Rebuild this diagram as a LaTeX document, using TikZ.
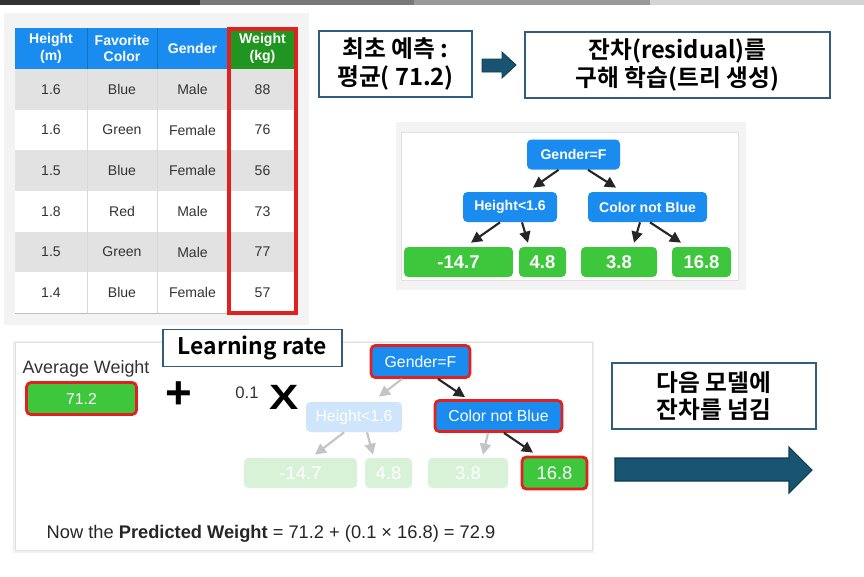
\documentclass[tikz,border=0pt]{standalone}
\usepackage{fontspec}
\setmainfont{Liberation Sans}
\newfontfamily\krfont{Noto Sans CJK KR}[BoldFont={* Bold}]
\usepackage{tikz}
\usetikzlibrary{arrows.meta, positioning, calc}
\definecolor{tblblue}{RGB}{26,140,240}
\definecolor{tblgreen}{RGB}{32,150,32}
\definecolor{leafgreen}{RGB}{62,198,60}
\definecolor{rowgray}{RGB}{226,226,226}
\definecolor{boxteal}{RGB}{49,94,124}
\definecolor{arrowteal}{RGB}{24,84,114}
\definecolor{markred}{RGB}{225,32,32}
\definecolor{fadeblue}{RGB}{206,229,251}
\definecolor{fadegreen}{RGB}{216,242,216}
\definecolor{fadegray}{RGB}{196,196,196}
\definecolor{panelgray}{RGB}{243,243,243}

\begin{document}
\begin{tikzpicture}[
    x=0.02cm, y=-0.02cm,
    every node/.style={font=\fontsize{8}{9.5}\selectfont},
    cell/.style={font=\fontsize{8}{9.5}\selectfont, text=black!80},
    hdr/.style={font=\fontsize{8}{9.5}\selectfont\bfseries, text=white, align=center},
    krbox/.style={draw=boxteal, line width=0.8pt, fill=white, align=center, inner sep=0pt, font=\fontsize{13.5}{15.5}\selectfont\krfont\bfseries},
    treenode/.style={rounded corners=2.5pt, fill=tblblue, text=white, minimum height=0.6cm, inner sep=0pt, font=\fontsize{8}{9}\selectfont\bfseries},
    leaf/.style={rounded corners=2.5pt, fill=leafgreen, text=white, minimum height=0.6cm, inner sep=0pt, font=\fontsize{10.5}{12}\selectfont\bfseries},
    marked/.style={draw=markred, line width=1.6pt},
    tarrow/.style={-{Triangle[length=2.2mm,width=2.2mm]}, line width=1.2pt, black!85},
    farrow/.style={tarrow, fadegray}
]
\useasboundingbox (0,0) rectangle (864,576);

% top bar
\fill[black!80] (0,0) rectangle (200,5);
\fill[black!53] (200,0) rectangle (414,5);
\fill[black!40] (414,0) rectangle (650,5);
\fill[black!17] (650,0) rectangle (864,5);

% data table
\fill[panelgray] (4,13) rectangle (309,325);
\fill[tblblue] (15,28) rectangle (228,69);
\fill[tblgreen] (228,28) rectangle (297,69);
\node[hdr] (hd1) at (51,48.5) {Height\\(m)};
\node[hdr] (hd2) at (122,48.5) {Favorite\\Color};
\node[hdr] (hd3) at (192.5,48.5) {Gender};
\node[hdr] (hd4) at (262.5,48.5) {Weight\\(kg)};
\foreach \hgt/\clr/\gnd/\wgt [count=\i] in {1.6/Blue/Male/88, 1.6/Green/Female/76, 1.5/Blue/Female/56, 1.8/Red/Male/73, 1.5/Green/Male/77, 1.4/Blue/Female/57} {
    \pgfmathsetmacro\ytop{69+(\i-1)*40.67}
    \pgfmathsetmacro\yc{\ytop+20.33}
    \ifodd\i\def\rowfill{rowgray}\else\def\rowfill{white}\fi
    \fill[\rowfill] (15,\ytop) rectangle (297,\ytop+40.67);
    \node[cell] (c\i-1) at (51,\yc) {\hgt};
    \node[cell] (c\i-2) at (122,\yc) {\clr};
    \node[cell] (c\i-3) at (192.5,\yc) {\gnd};
    \node[cell] (c\i-4) at (262.5,\yc) {\wgt};
}
\foreach \x in {87,157,228} {
    \draw[black!15, line width=0.4pt] (\x,69) -- (\x,313);
    \draw[tblblue!80!black, line width=0.3pt] (\x,28) -- (\x,69);
}
\draw[black!25, line width=1pt] (15,313.5) -- (297,313.5);
\draw[markred, line width=1.9pt] (229,29) rectangle (296,313);

% first prediction and residual
\node[krbox, minimum width=3.06cm, minimum height=1.32cm] (init) at (395.5,64) {최초 예측 :\\평균( 71.2)};
\node[krbox, minimum width=6.1cm, minimum height=1.32cm] (resid) at (677.5,65) {잔차(residual)를\\구해 학습(트리 생성)};
\draw[fill=arrowteal, draw=arrowteal!70!black, line width=0.5pt] (482,59) -- (502,59) -- (502,52) -- (516,65) -- (502,78) -- (502,72) -- (482,72) -- cycle;

% residual tree
\fill[panelgray] (396,122) rectangle (746,290);
\draw[black!12, fill=white] (401,132) rectangle (738,280);
\node[treenode, minimum width=1.86cm] (g1) at (573.5,154.5) {Gender=F};
\node[treenode, minimum width=1.88cm] (h1) at (510,207) {Height<1.6};
\node[treenode, minimum width=2.38cm] (c1) at (647.5,207) {Color not Blue};
\node[leaf, minimum width=2.18cm] (l1) at (458.5,262) {-14.7};
\node[leaf, minimum width=0.94cm] (l2) at (542.5,262) {4.8};
\node[leaf, minimum width=1.52cm] (l3) at (619,262) {3.8};
\node[leaf, minimum width=1.18cm] (l4) at (701.5,262) {16.8};
\draw[tarrow] ([xshift=-0.3cm]g1.south) -- ([xshift=0.46cm,yshift=0.08cm]h1.north);
\draw[tarrow] ([xshift=0.29cm]g1.south) -- ([xshift=-0.63cm,yshift=0.08cm]c1.north);
\draw[tarrow] ([xshift=-0.2cm]h1.south) -- ([xshift=0.25cm,yshift=0.08cm]l1.north);
\draw[tarrow] ([xshift=0.24cm]h1.south) -- ([xshift=-0.29cm,yshift=0.08cm]l2.north);
\draw[tarrow] ([xshift=-0.15cm]c1.south) -- ([xshift=0.3cm,yshift=0.08cm]l3.north);
\draw[tarrow] ([xshift=0.05cm]c1.south) -- ([xshift=-0.41cm,yshift=0.08cm]l4.north);

% prediction panel
\fill[black!6] (13,341) rectangle (594,553);
\draw[black!12, fill=white] (15,342) rectangle (592,550);
\node[krbox, minimum width=3.58cm, minimum height=0.74cm, font=\fontsize{13}{15}\selectfont\krfont\bfseries] (lr) at (252.5,348) {Learning rate};
\node[font=\fontsize{10.2}{12}\selectfont, text=black!80] (avgtxt) at (86,369) {Average Weight};
\node[leaf, marked, minimum width=2.2cm, minimum height=0.64cm, font=\fontsize{9}{11}\selectfont] (avg) at (81.5,398.5) {71.2};
\node[font=\fontsize{26}{26}\selectfont\bfseries] (plus) at (179,395) {+};
\node[font=\fontsize{9.5}{11}\selectfont, text=black!80] (rate) at (247,393) {0.1};
\node[font=\fontsize{20}{20}\selectfont\bfseries, xscale=1.25] (times) at (284,397) {X};

\node[treenode, marked, minimum width=1.98cm, minimum height=0.64cm, font=\fontsize{9}{11}\selectfont] (g2) at (420.5,361.5) {Gender=F};
\node[treenode, fill=fadeblue, minimum width=1.92cm, font=\fontsize{9}{11}\selectfont] (h2) at (354,417) {Height<1.6};
\node[treenode, marked, minimum width=2.54cm, minimum height=0.62cm, font=\fontsize{9}{11}\selectfont] (c2) at (498.5,416) {Color not Blue};
\node[leaf, fill=fadegreen, minimum width=2.26cm, font=\fontsize{10.5}{12}\selectfont] (m1) at (300.5,473) {-14.7};
\node[leaf, fill=fadegreen, minimum width=0.94cm, font=\fontsize{10.5}{12}\selectfont] (m2) at (388.5,473) {4.8};
\node[leaf, fill=fadegreen, minimum width=1.6cm, font=\fontsize{10.5}{12}\selectfont] (m3) at (468,473) {3.8};
\node[leaf, marked, minimum width=1.3cm, minimum height=0.64cm, font=\fontsize{10.5}{12}\selectfont] (m4) at (554.5,473) {16.8};
\draw[farrow] ([xshift=-0.37cm]g2.south) -- ([xshift=0.5cm,yshift=0.1cm]h2.north);
\draw[tarrow] ([xshift=0.35cm]g2.south) -- ([xshift=-0.67cm,yshift=0.04cm]c2.north);
\draw[farrow] ([xshift=-0.2cm]h2.south) -- ([xshift=0.29cm,yshift=0.06cm]m1.north);
\draw[farrow] ([xshift=0.26cm]h2.south) -- ([xshift=-0.31cm,yshift=0.06cm]m2.north);
\draw[farrow] ([xshift=-0.21cm]c2.south) -- ([xshift=0.3cm,yshift=0.06cm]m3.north);
\draw[tarrow] ([xshift=0.11cm]c2.south) -- ([xshift=-0.43cm,yshift=0.06cm]m4.north);
\node[font=\fontsize{10.4}{12}\selectfont, text=black!85] (result) at (271,534) {Now the \textbf{Predicted Weight} = 71.2 + (0.1 × 16.8) = 72.9};

% pass to next model
\node[krbox, minimum width=4.08cm, minimum height=1.32cm] (next) at (714,396) {다음 모델에\\잔차를 넘김};
\draw[fill=arrowteal, draw=arrowteal!70!black, line width=0.6pt] (615,458) -- (789,458) -- (789,447) -- (812,470) -- (789,493) -- (789,481) -- (615,481) -- cycle;

\end{tikzpicture}
\end{document}
